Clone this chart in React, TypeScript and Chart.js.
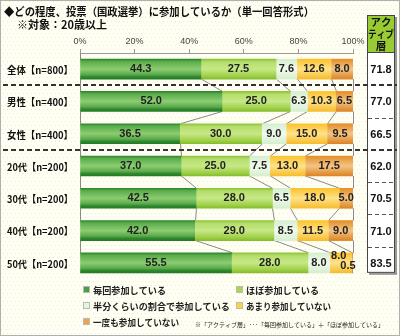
import React, { useEffect, useRef } from "react";
import { Chart, registerables } from "chart.js";

Chart.register(...registerables);

const categories = ["全体【n=800】", "男性【n=400】", "女性【n=400】", "20代【n=200】", "30代【n=200】", "40代【n=200】", "50代【n=200】"];
const seriesNames = ["毎回参加している", "ほぼ参加している", "半分くらいの割合で参加している", "あまり参加していない", "一度も参加していない"];
const every = [44.3, 52.0, 36.5, 37.0, 42.5, 42.0, 55.5];
const mostly = [27.5, 25.0, 30.0, 25.0, 28.0, 29.0, 28.0];
const half = [7.6, 6.3, 9.0, 7.5, 6.5, 8.5, 8.0];
const rarely = [12.6, 10.3, 15.0, 13.0, 18.0, 11.5, 8.0];
const never = [8.0, 6.5, 9.5, 17.5, 5.0, 9.0, 0.5];
const activeLayer = [71.8, 77.0, 66.5, 62.0, 70.5, 71.0, 83.5];
const xTicks = [0, 20, 40, 60, 80, 100];
const groupEnds = [0, 2]; // full-width dashed separators after these rows

const titleLine1 = "◆どの程度、投票（国政選挙）に参加しているか（単一回答形式）";
const titleLine2 = "※対象：20歳以上";
const activeHeader = ["アク", "ティブ", "層"];
const noteText = "※「アクティブ層」･･･「毎回参加している」＋「ほぼ参加している」";

const JP = '"Noto Sans CJK JP", sans-serif';
const NUM = '"Liberation Sans", Arial, sans-serif';

const gradStops: [number, string][][] = [
  [[0, "#2c862c"], [0.12, "#5aac4a"], [0.5, "#8ccd72"], [0.78, "#5aa84a"], [0.88, "#2e8a2e"], [1, "#257a25"]],
  [[0, "#8cc43a"], [0.15, "#b6de6c"], [0.5, "#c6e888"], [0.82, "#a2d24a"], [1, "#86bc30"]],
  [[0, "#d6eed0"], [0.5, "#f0faec"], [1, "#d6eed0"]],
  [[0, "#fbc22c"], [0.5, "#ffe28a"], [1, "#f6bc2c"]],
  [[0, "#e48e28"], [0.5, "#f2c486"], [1, "#dc8424"]],
];
const flatColors = ["#45a040", "#a8d848", "#e2f5de", "#ffd040", "#eea448"];

const BAR_H = 20;

function makeBg(idx: number) {
  return (ctx: any) => {
    const chart = ctx.chart;
    const y = chart.scales?.y;
    if (!y || ctx.dataIndex === undefined) return flatColors[idx];
    const cy = y.getPixelForValue(ctx.dataIndex);
    if (!isFinite(cy)) return flatColors[idx];
    const g = chart.ctx.createLinearGradient(0, cy - BAR_H / 2, 0, cy + BAR_H / 2);
    gradStops[idx].forEach(([o, c]) => g.addColorStop(o, c));
    return g;
  };
}

const customPlugin = {
  id: "custom",
  beforeDraw(chart: any) {
    const c = chart.ctx;
    c.save();
    c.fillStyle = "#fffff3";
    c.fillRect(0, 0, 400, 336);
    c.fillStyle = "#ecebd6";
    for (let yy = 1; yy < 336; yy += 4) {
      for (let xx = (yy % 8 === 1 ? 1 : 3); xx < 400; xx += 4) {
        c.fillRect(xx, yy, 1, 1);
      }
    }
    c.strokeStyle = "#b0b0b0";
    c.lineWidth = 1;
    c.strokeRect(0.5, 0.5, 399, 335);
    c.restore();
  },
  beforeDatasetsDraw(chart: any) {
    const c = chart.ctx;
    const xs = chart.scales.x;
    const ys = chart.scales.y;
    const sets = [every, mostly, half, rarely, never];
    c.save();
    c.strokeStyle = "#8a8a8a";
    c.lineWidth = 1;
    for (let i = 0; i < categories.length - 1; i++) {
      let cumA = 0;
      let cumB = 0;
      for (let k = 0; k <= sets.length; k++) {
        if (k > 0) {
          cumA += sets[k - 1][i];
          cumB += sets[k - 1][i + 1];
        }
        const xa = xs.getPixelForValue(Math.min(cumA, 100));
        const xb = xs.getPixelForValue(Math.min(cumB, 100));
        const ya = ys.getPixelForValue(i) + BAR_H / 2;
        const yb = ys.getPixelForValue(i + 1) - BAR_H / 2;
        c.beginPath();
        c.moveTo(Math.round(xa) + 0.5, ya);
        c.lineTo(Math.round(xb) + 0.5, yb);
        c.stroke();
      }
    }
    c.beginPath();
    c.moveTo(Math.round(xs.getPixelForValue(0)) + 0.5, chart.chartArea.top);
    c.lineTo(Math.round(xs.getPixelForValue(0)) + 0.5, ys.getPixelForValue(0) - BAR_H / 2);
    c.stroke();
    c.restore();
  },
  afterDatasetsDraw(chart: any) {
    const c = chart.ctx;
    c.save();
    c.font = `bold 11px ${NUM}`;
    c.fillStyle = "#222";
    c.textAlign = "center";
    c.textBaseline = "middle";
    const nSets = chart.data.datasets.length;
    for (let i = 0; i < categories.length; i++) {
      for (let d = 0; d < nSets; d++) {
        const el = chart.getDatasetMeta(d).data[i];
        const v = chart.data.datasets[d].data[i];
        const w = Math.abs(el.x - el.base);
        let x = (el.x + el.base) / 2;
        let y = el.y;
        const next = d + 1 < nSets ? chart.getDatasetMeta(d + 1).data[i] : null;
        const nextTiny = next && Math.abs(next.x - next.base) < 8;
        if (w < 8) {
          x = el.x - 5;
          y = el.y + 3;
        } else if (nextTiny) {
          y = el.y - 7;
          x -= 2;
        }
        c.fillText(v.toFixed(1), x, y);
      }
    }
    c.restore();
  },
  afterDraw(chart: any) {
    const c = chart.ctx;
    const ys = chart.scales.y;
    c.save();
    c.fillStyle = "#111";
    c.textBaseline = "middle";
    c.textAlign = "left";
    c.font = `bold 11px ${JP}`;
    c.fillText(titleLine1, 4, 12, 310);
    c.fillText(titleLine2, 17, 25);

    // category labels
    c.textAlign = "right";
    c.font = `bold 10px ${JP}`;
    categories.forEach((cat, i) => {
      c.fillText(cat, 73, ys.getPixelForValue(i) + 1, 66);
    });

    // active box
    const bx = 367, bw = 28, hTop = 15, hBot = 52;
    const boxBottom = ys.getPixelForValue(categories.length - 1) + 10;
    c.fillStyle = "#999";
    c.fillRect(bx + 2, hTop + 2, bw, boxBottom - hTop);
    c.fillStyle = "#ffffff";
    c.fillRect(bx, hBot, bw, boxBottom - hBot);
    c.fillStyle = "#99cc33";
    c.fillRect(bx, hTop, bw, hBot - hTop);
    c.strokeStyle = "#444";
    c.lineWidth = 1;
    c.strokeRect(bx + 0.5, hTop + 0.5, bw - 1, hBot - hTop);
    c.strokeRect(bx + 0.5, hBot + 0.5, bw - 1, boxBottom - hBot - 1);
    c.fillStyle = "#111";
    c.textAlign = "center";
    c.font = `bold 10.5px ${JP}`;
    activeHeader.forEach((t, k) => c.fillText(t, bx + bw / 2, 22 + k * 12, bw - 2));
    c.font = `bold 11px ${NUM}`;
    activeLayer.forEach((v, i) => {
      c.fillText(v.toFixed(1), bx + bw / 2, ys.getPixelForValue(i) + 1);
    });

    // separators
    for (let i = 0; i < categories.length - 1; i++) {
      const sy = Math.round((ys.getPixelForValue(i) + ys.getPixelForValue(i + 1)) / 2);
      if (groupEnds.includes(i)) {
        c.strokeStyle = "#333";
        c.lineWidth = 2;
        c.setLineDash([5, 3]);
        c.beginPath();
        c.moveTo(3, sy);
        c.lineTo(397, sy);
        c.stroke();
      } else {
        c.strokeStyle = "#555";
        c.lineWidth = 1;
        c.setLineDash([4, 3]);
        c.beginPath();
        c.moveTo(bx + 1, sy + 0.5);
        c.lineTo(bx + bw - 1, sy + 0.5);
        c.stroke();
      }
    }
    c.setLineDash([]);

    // legend
    const legendPos = [[83, 289], [236, 289], [83, 305], [236, 305], [83, 321]];
    const legendW = [73, 73, 137, 85, 86];
    c.textAlign = "left";
    c.font = `bold 9.5px ${JP}`;
    seriesNames.forEach((name, k) => {
      const [lx, ly] = legendPos[k];
      c.fillStyle = flatColors[k];
      c.fillRect(lx, ly - 3, 7, 7);
      c.strokeStyle = "#bbb";
      c.lineWidth = 1;
      c.strokeRect(lx + 0.5, ly - 2.5, 6, 6);
      c.fillStyle = "#222";
      c.fillText(name, lx + 10, ly + 1, legendW[k]);
    });
    c.font = `6px ${JP}`;
    c.fillStyle = "#222";
    c.fillText(noteText, 195, 325, 197);
    c.restore();
  },
};

export default function App() {
  const ref = useRef<HTMLCanvasElement>(null);
  useEffect(() => {
    if (!ref.current) return;
    const datasets = [every, mostly, half, rarely, never].map((arr, idx) => ({
      label: seriesNames[idx],
      data: arr,
      backgroundColor: makeBg(idx),
      borderWidth: 0,
      barThickness: BAR_H,
    }));
    const chart = new Chart(ref.current, {
      type: "bar",
      data: { labels: categories, datasets },
      options: {
        indexAxis: "y",
        responsive: false,
        animation: false,
        devicePixelRatio: 1,
        layout: { padding: { left: 80, right: 47, top: 35, bottom: 57 } },
        plugins: { legend: { display: false }, tooltip: { enabled: false } },
        scales: {
          x: {
            position: "top",
            stacked: true,
            min: 0,
            max: 100,
            afterBuildTicks: (scale: any) => {
              scale.ticks = xTicks.map((v) => ({ value: v }));
            },
            afterFit: (scale: any) => {
              scale.height = 18;
            },
            ticks: {
              callback: (v: any) => `${v}%`,
              font: { family: NUM, size: 9 },
              color: "#444",
              padding: 2,
              maxRotation: 0,
            },
            grid: { drawOnChartArea: false, drawTicks: true, tickLength: 4, color: "#999" },
            border: { display: true, color: "#999" },
          },
          y: {
            display: false,
            stacked: true,
            offset: true,
          },
        },
      },
      plugins: [customPlugin],
    });
    return () => chart.destroy();
  }, []);
  return (
    <div style={{ position: "absolute", left: 0, top: 0, width: 400, height: 336 }}>
      <canvas ref={ref} width={400} height={336} style={{ display: "block" }} />
    </div>
  );
}
